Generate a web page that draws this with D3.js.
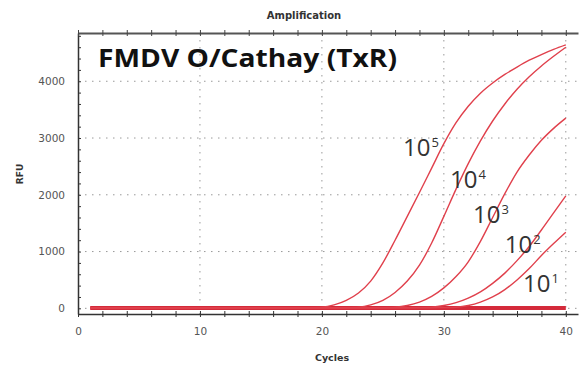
<!DOCTYPE html>
<html>
<head>
<meta charset="utf-8">
<script src="https://cdn.jsdelivr.net/npm/d3@7"></script>
<style>
  body { margin: 0; background: #fff; }
  svg { display: block; }
</style>
</head>
<body>
<svg id="plotSVG" width="581" height="372"></svg>
<script>
// cycles 1..40
let cycles = [1,2,3,4,5,6,7,8,9,10,11,12,13,14,15,16,17,18,19,20,
              21,22,23,24,25,26,27,28,29,30,31,32,33,34,35,36,37,38,39,40]

// RFU, one value per cycle
let rfu1e5 = [10,10,10,10,10,10,10,10,10,10,10,10,10,10,10,10,10,10,12,
              20,60,140,270,480,800,1200,1620,2040,2470,2900,3270,3560,3790,3970,4120,4250,4370,4470,4560,4640]
let rfu1e4 = [10,10,10,10,10,10,10,10,10,10,10,10,10,10,10,10,10,10,10,10,10,12,
              20,60,140,280,480,760,1150,1620,2100,2550,2950,3300,3600,3860,4080,4270,4440,4600]
let rfu1e3 = [10,10,10,10,10,10,10,10,10,10,10,10,10,10,10,10,10,10,10,10,10,10,10,10,12,
              20,50,110,210,360,560,820,1180,1600,2020,2400,2700,2960,3170,3350]
let rfu1e2 = [10,10,10,10,10,10,10,10,10,10,10,10,10,10,10,10,10,10,10,10,10,10,10,10,10,10,10,12,
              20,50,100,180,290,440,620,840,1090,1380,1680,1980]
let rfu1e1 = [10,10,10,10,10,10,10,10,10,10,10,10,10,10,10,10,10,10,10,10,10,10,10,10,10,10,10,10,10,12,
              20,50,110,200,330,500,700,930,1140,1340]
// negative controls, flat
let rfuNtc = [5,5,5,5,5,5,5,5,5,5,5,5,5,5,5,5,5,5,5,5,
              5,5,5,5,5,5,5,5,5,5,5,5,5,5,5,5,5,5,5,5]

let curves = [rfu1e5, rfu1e4, rfu1e3, rfu1e2, rfu1e1]

let xTicks = [0, 10, 20, 30, 40]
let yTicks = [0, 1000, 2000, 3000, 4000]

// dilution labels, placed in data coordinates (cycle, RFU)
let dilutionLabels = ["5", "4", "3", "2", "1"]
let labelCycle = [26.65, 30.5, 32.4, 35.0, 36.5]
let labelRfu = [2680, 2120, 1500, 975, 290]

let svg = d3.select("#plotSVG")

let xScale = d3.scaleLinear().domain([0, 41]).range([78, 578])
let yScale = d3.scaleLinear().domain([-100, 4850]).range([314, 33])

// dotted grid
svg.append("g")
    .selectAll("line")
    .data(xTicks.slice(1))
    .join("line")
    .attr("x1", d => xScale(d)).attr("x2", d => xScale(d))
    .attr("y1", yScale.range()[1]).attr("y2", yScale.range()[0])
    .attr("stroke", "#999")
    .attr("stroke-width", 1)
    .attr("stroke-dasharray", "1.5,5.5")

svg.append("g")
    .selectAll("line")
    .data(yTicks)
    .join("line")
    .attr("x1", xScale(0)).attr("x2", xScale(41))
    .attr("y1", d => yScale(d)).attr("y2", d => yScale(d))
    .attr("stroke", "#999")
    .attr("stroke-width", 1)
    .attr("stroke-dasharray", "1.5,5.5")

// y axis
let yAxis = svg.append("g")
    .attr("transform", "translate(78,0)")
    .call(d3.axisLeft(yScale)
        .tickValues(d3.range(0, 4801, 200))
        .tickFormat(d => yTicks.includes(d) ? d : "")
        .tickSize(3)
        .tickPadding(10)
        .tickSizeOuter(0))
yAxis.selectAll(".tick line").attr("x2", 3).attr("stroke", "#333")
yAxis.select(".domain").attr("stroke", "#333").attr("stroke-width", 1.5)
yAxis.selectAll("text")
    .style("font-family", "DejaVu Sans")
    .style("font-size", "10.5px")
    .attr("fill", "#555")

// x axis
let xAxis = svg.append("g")
    .attr("transform", "translate(0,314)")
    .call(d3.axisBottom(xScale)
        .tickValues(d3.range(0, 41, 2))
        .tickFormat(d => xTicks.includes(d) ? d : "")
        .tickSize(3)
        .tickPadding(11)
        .tickSizeOuter(0))
xAxis.selectAll(".tick line").attr("y1", -3).attr("stroke", "#333")
xAxis.select(".domain").attr("stroke", "#333").attr("stroke-width", 1.5)
xAxis.selectAll("text")
    .style("font-family", "DejaVu Sans")
    .style("font-size", "10.5px")
    .attr("fill", "#555")

// top border with ticks
let topAxis = svg.append("g")
    .attr("transform", "translate(0,33)")
    .call(d3.axisTop(xScale)
        .tickValues(d3.range(0, 41, 2))
        .tickFormat("")
        .tickSize(3)
        .tickSizeOuter(0))
topAxis.selectAll(".tick line").attr("y1", 3).attr("stroke", "#444")
topAxis.select(".domain").attr("stroke", "#555").attr("stroke-width", 2)

// curves
let line = d3.line()
    .x((d, i) => xScale(cycles[i]))
    .y(d => yScale(d))
    .curve(d3.curveMonotoneX)

svg.append("path")
    .datum(rfuNtc)
    .attr("d", line)
    .attr("fill", "none")
    .attr("stroke", "#d42a3a")
    .attr("stroke-width", 4)

svg.selectAll(".curve")
    .data(curves)
    .join("path")
    .attr("class", "curve")
    .attr("d", line)
    .attr("fill", "none")
    .attr("stroke", "#e0404c")
    .attr("stroke-width", 1.4)

// labels 10^n
let lab = svg.selectAll(".dil")
    .data(dilutionLabels)
    .join("text")
    .attr("class", "dil")
    .attr("x", (d, i) => xScale(labelCycle[i]))
    .attr("y", (d, i) => yScale(labelRfu[i]))
    .style("font-family", "Open Sans")
    .style("font-size", "24px")
    .attr("fill", "#333")
lab.append("tspan").text("10")
lab.append("tspan")
    .attr("dx", 1)
    .attr("dy", -9)
    .style("font-size", "13px")
    .text(d => d)

// overlay title
svg.append("text")
    .attr("x", 98)
    .attr("y", 67)
    .attr("textLength", 299)
    .attr("lengthAdjust", "spacingAndGlyphs")
    .style("font-family", "Open Sans")
    .style("font-weight", "bold")
    .style("font-size", "25px")
    .attr("fill", "#111")
    .text("FMDV O/Cathay (TxR)")

svg.append("text")
    .attr("x", 304)
    .attr("y", 19)
    .attr("text-anchor", "middle")
    .style("font-family", "DejaVu Sans")
    .style("font-weight", "bold")
    .style("font-size", "10px")
    .attr("fill", "#333")
    .text("Amplification")

svg.append("text")
    .attr("x", 332)
    .attr("y", 361)
    .attr("text-anchor", "middle")
    .style("font-family", "DejaVu Sans")
    .style("font-weight", "bold")
    .style("font-size", "9.5px")
    .attr("fill", "#333")
    .text("Cycles")

svg.append("text")
    .attr("transform", "translate(23,174) rotate(-90)")
    .attr("text-anchor", "middle")
    .style("font-family", "DejaVu Sans")
    .style("font-weight", "bold")
    .style("font-size", "9px")
    .attr("fill", "#333")
    .text("RFU")
</script>
</body>
</html>
